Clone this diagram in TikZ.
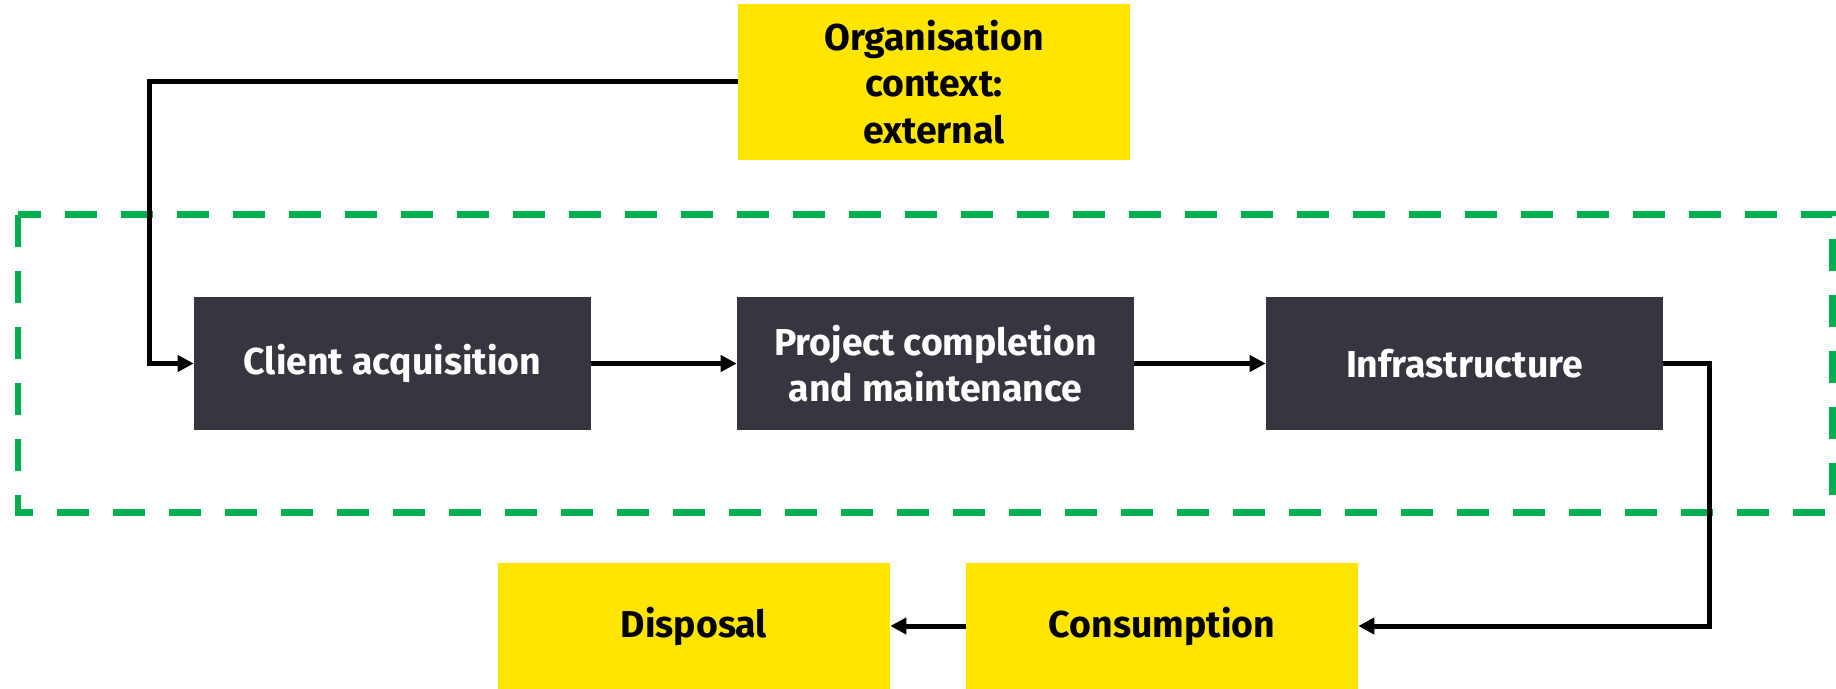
\documentclass[tikz,border=0pt]{standalone}
\usepackage{fontspec}
\setmainfont{Fira Sans}
\usetikzlibrary{arrows.meta}
\definecolor{boxyellow}{HTML}{FFE500}
\definecolor{boxdark}{HTML}{363640}
\definecolor{zonegreen}{HTML}{00B050}

\begin{document}
\begin{tikzpicture}[x=0.02cm,y=-0.02cm,
    stagebox/.style={fill=boxdark,text=white,minimum width=7.94cm,minimum height=2.66cm,
      align=center,inner sep=0pt,font=\fontsize{21.3}{26.5}\selectfont\bfseries},
    ctxbox/.style={fill=boxyellow,text=black,minimum width=7.84cm,minimum height=2.52cm,
      align=center,inner sep=0pt,font=\fontsize{21.3}{26.5}\selectfont\bfseries},
    flow/.style={line width=0.1cm,-{Triangle[length=0.32cm,width=0.32cm]}}]
  \useasboundingbox (0,0) rectangle (1836,689);

  % dashed zone round the three stages
  \draw[zonegreen,line width=0.14cm,dash pattern=on 0.64cm off 0.48cm] (18,215) rectangle (1832,512);

  \node[ctxbox,minimum height=3.12cm] (org) at (934,82) {Organisation\\context:\\external};
  \node[stagebox] (client) at (392.5,363.5) {Client acquisition};
  \node[stagebox] (project) at (935.5,363.5) {Project completion\\and maintenance};
  \node[stagebox] (infra) at (1464.5,363.5) {Infrastructure};
  \node[ctxbox] (consume) at (1162,626) {Consumption};
  \node[ctxbox] (disposal) at (694,626) {Disposal};

  \draw[flow] (org.west) -| (149,300) |- (client.west);
  \draw[flow] (client) -- (project);
  \draw[flow] (project) -- (infra);
  \draw[flow] (infra.east) -- ++(46,0) |- (consume.east);
  \draw[flow] (consume) -- (disposal);
\end{tikzpicture}
\end{document}
